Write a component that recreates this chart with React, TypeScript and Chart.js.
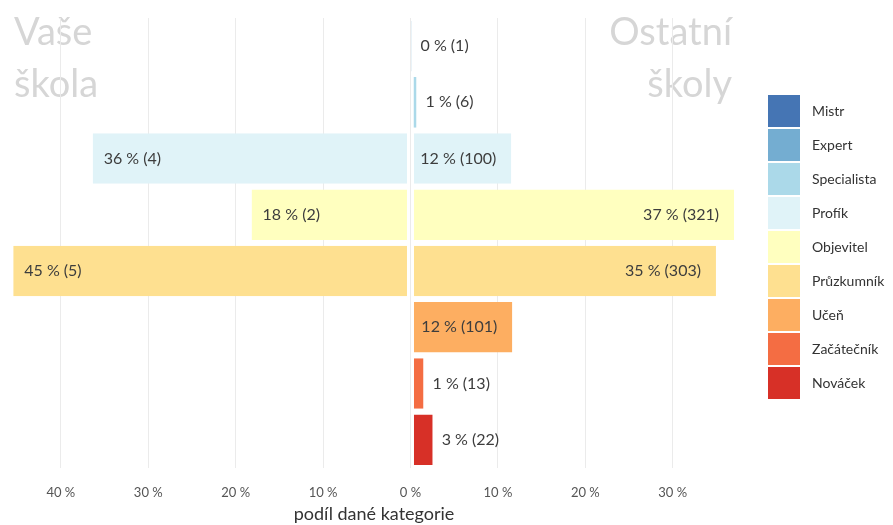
import React, { useEffect, useRef } from "react";
import { Chart, registerables } from "chart.js";

Chart.register(...registerables);

// ---- data ----
const categories = ["Expert", "Specialista", "Profík", "Objevitel", "Průzkumník", "Učeň", "Začátečník", "Nováček"];
// share (in %) and count for "Vaše škola"
const yourSchoolShare = [0, 0, 36.36, 18.18, 45.45, 0, 0, 0];
const yourSchoolCounts = [0, 0, 4, 2, 5, 0, 0, 0];
// share (in %) and count for "Ostatní školy"
const otherSchoolsShare = [0.12, 0.69, 11.53, 37.02, 34.95, 11.65, 1.49, 2.54];
const otherSchoolsCounts = [1, 6, 100, 321, 303, 101, 13, 22];

const legendLabels = ["Mistr", "Expert", "Specialista", "Profík", "Objevitel", "Průzkumník", "Učeň", "Začátečník", "Nováček"];
const legendColors = ["#4575b4", "#74add1", "#abd9e9", "#e0f3f8", "#ffffbf", "#fee090", "#fdae61", "#f46d43", "#d73027"];

const xTickValues = [-40, -30, -20, -10, 0, 10, 20, 30];
const panelTitles = [["Vaše", "škola"], ["Ostatní", "školy"]];
const axisTitle = "podíl dané kategorie";

const FONT = "Lato, 'Noto Sans', sans-serif";

const colorOf = (cat: string) => legendColors[legendLabels.indexOf(cat)];

const overlayPlugin = {
  id: "overlay",
  beforeDraw(chart: any) {
    const ctx = chart.ctx as CanvasRenderingContext2D;
    ctx.save();
    ctx.fillStyle = "#d6d6d6";
    ctx.font = `38px ${FONT}`;
    ctx.textBaseline = "alphabetic";
    ctx.textAlign = "left";
    ctx.fillText(panelTitles[0][0], 14, 45);
    ctx.fillText(panelTitles[0][1], 14, 97);
    ctx.textAlign = "right";
    ctx.fillText(panelTitles[1][0], 732, 45);
    ctx.fillText(panelTitles[1][1], 732, 97);
    ctx.restore();
  },
  afterDatasetsDraw(chart: any) {
    const ctx = chart.ctx as CanvasRenderingContext2D;
    ctx.save();
    ctx.font = `16px ${FONT}`;
    ctx.fillStyle = "#3d3d3d";
    ctx.textBaseline = "middle";
    chart.data.datasets.forEach((_ds: any, di: number) => {
      const meta = chart.getDatasetMeta(di);
      meta.data.forEach((bar: any, i: number) => {
        const share = di === 0 ? yourSchoolShare[i] : otherSchoolsShare[i];
        const count = di === 0 ? yourSchoolCounts[i] : otherSchoolsCounts[i];
        if (!count) return;
        const text = `${Math.round(share)} % (${count})`;
        if (di === 0) {
          ctx.textAlign = "left";
          ctx.fillText(text, bar.x + 11, bar.y);
        } else if (share >= 5) {
          ctx.textAlign = "right";
          ctx.fillText(text, bar.x - 15, bar.y);
        } else {
          ctx.textAlign = "left";
          ctx.fillText(text, bar.x + 9, bar.y);
        }
      });
    });
    ctx.restore();
  },
  afterDraw(chart: any) {
    const ctx = chart.ctx as CanvasRenderingContext2D;
    ctx.save();
    ctx.font = `14px ${FONT}`;
    ctx.textBaseline = "middle";
    ctx.textAlign = "left";
    legendLabels.forEach((lab, i) => {
      const y = 95 + i * 34;
      ctx.fillStyle = legendColors[i];
      ctx.fillRect(768, y, 32, 32);
      ctx.fillStyle = "#333333";
      ctx.fillText(lab, 812, y + 16);
    });
    ctx.restore();
  },
};

export default function App() {
  const ref = useRef<HTMLCanvasElement>(null);
  useEffect(() => {
    document.body.style.margin = "0";
    const chart = new Chart(ref.current as HTMLCanvasElement, {
      type: "bar",
      data: {
        labels: categories,
        datasets: [
          {
            label: "Vaše škola",
            data: yourSchoolShare.map((v) => -v),
            backgroundColor: categories.map(colorOf),
            borderColor: "rgba(0,0,0,0)",
            borderWidth: { left: 0, right: 3, top: 0, bottom: 0 },
            borderSkipped: false,
            grouped: false,
            categoryPercentage: 1,
            barPercentage: 0.9,
          },
          {
            label: "Ostatní školy",
            data: otherSchoolsShare,
            backgroundColor: categories.map(colorOf),
            borderColor: "rgba(0,0,0,0)",
            borderWidth: { left: 3, right: 0, top: 0, bottom: 0 },
            borderSkipped: false,
            grouped: false,
            categoryPercentage: 1,
            barPercentage: 0.9,
          },
        ],
      } as any,
      options: {
        indexAxis: "y",
        responsive: true,
        maintainAspectRatio: false,
        animation: false,
        layout: { padding: { left: 10, right: 155, top: 18, bottom: 0 } },
        plugins: {
          legend: { display: false },
          tooltip: { enabled: false },
        },
        scales: {
          x: {
            type: "linear",
            min: -45.82,
            max: 37.47,
            afterBuildTicks: (scale: any) => {
              scale.ticks = xTickValues.map((v) => ({ value: v }));
            },
            grid: { color: "#ebebeb", drawTicks: false, lineWidth: 1 },
            border: { display: false },
            ticks: {
              padding: 17,
              color: "#555555",
              font: { family: FONT, size: 13 },
              callback: (v: any) => `${Math.abs(Math.round(Number(v)))} %`,
            },
            title: {
              display: true,
              text: axisTitle,
              color: "#333333",
              font: { family: FONT, size: 18 },
              padding: { top: -14, bottom: 0 },
            },
          },
          y: { display: false },
        },
      } as any,
      plugins: [overlayPlugin],
    });
    return () => chart.destroy();
  }, []);
  return (
    <div style={{ width: 893, height: 525, position: "relative" }}>
      <canvas ref={ref} />
    </div>
  );
}
